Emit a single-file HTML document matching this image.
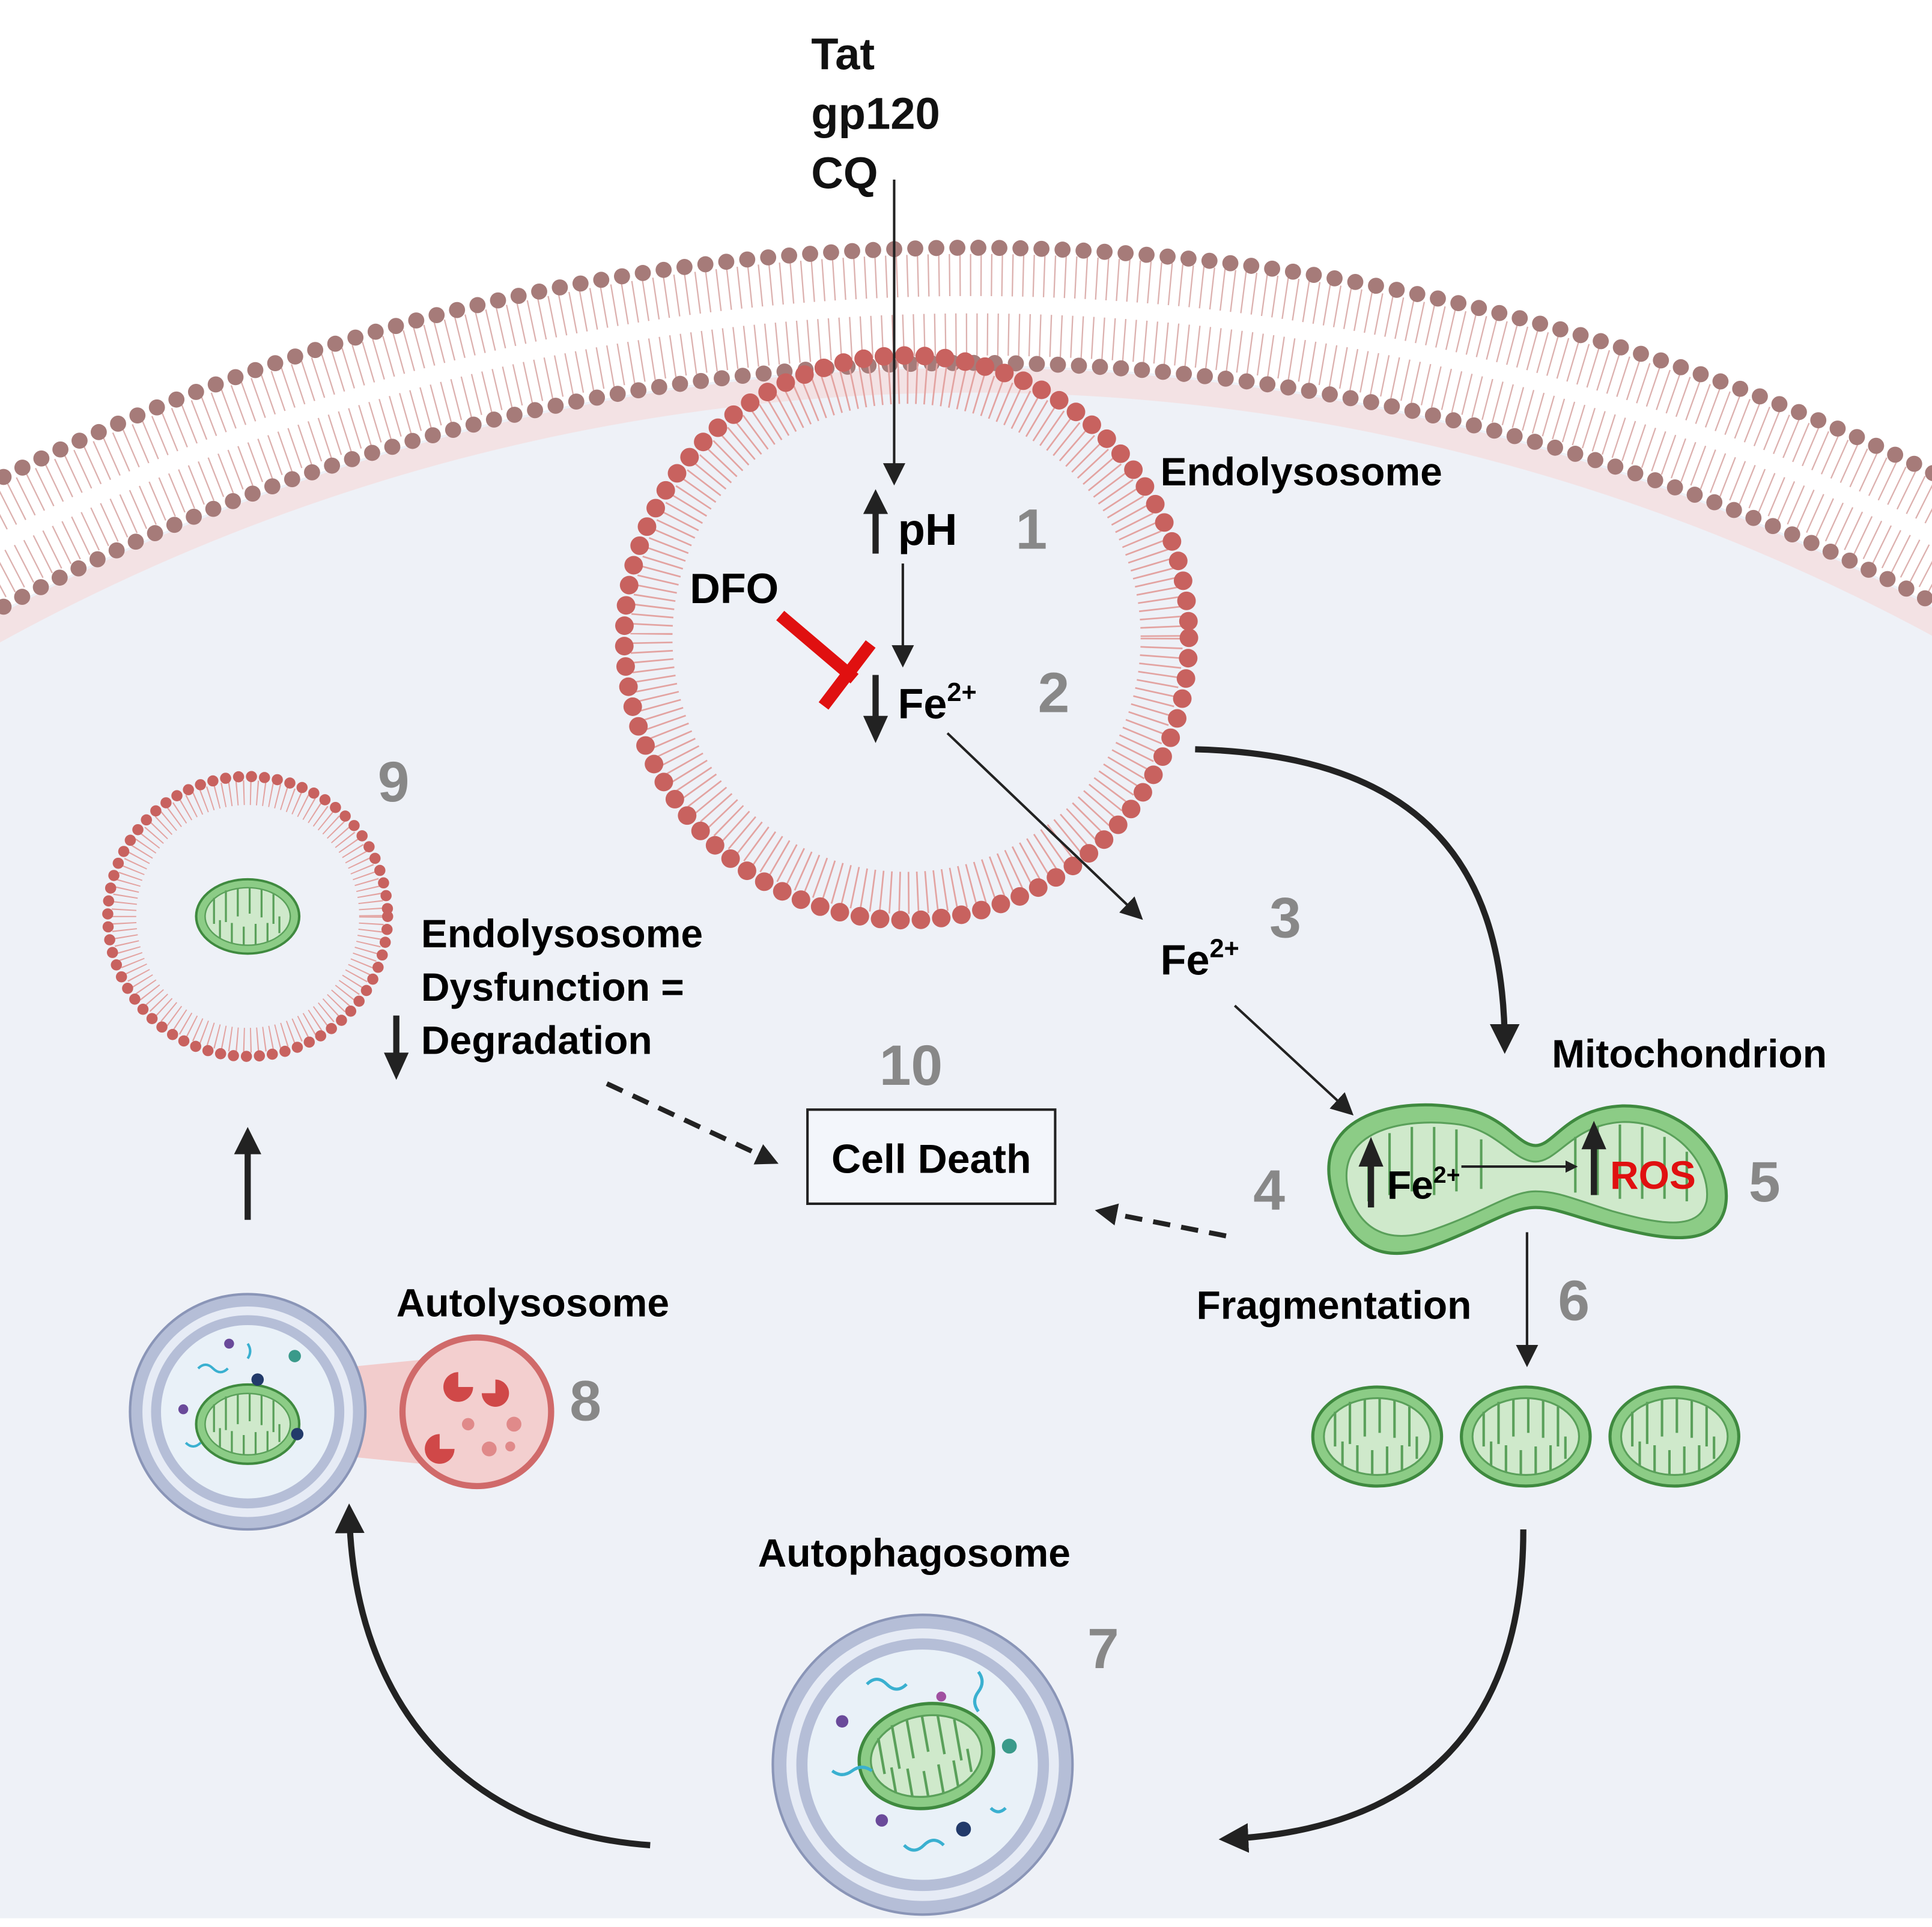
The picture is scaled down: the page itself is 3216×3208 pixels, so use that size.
<!DOCTYPE html>
<html><head><meta charset="utf-8"><style>
html,body{margin:0;padding:0;background:#fff;width:3216px;height:3208px;overflow:hidden;}
svg{display:block;}
text{font-family:"Liberation Sans",Arial,sans-serif;font-weight:bold;}
</style></head><body>
<svg width="3216" height="3208" viewBox="0 0 1560 1556" xmlns="http://www.w3.org/2000/svg">
<defs>
<marker id="ah" markerWidth="10" markerHeight="10" refX="8" refY="5" orient="auto" markerUnits="userSpaceOnUse"><path d="M0,0 L10,5 L0,10 z" fill="#222"/></marker>
<marker id="ahb" markerWidth="24" markerHeight="24" refX="18" refY="12" orient="auto" markerUnits="userSpaceOnUse"><path d="M0,0 L24,12 L0,24 z" fill="#222"/></marker>
<marker id="ahm" markerWidth="18" markerHeight="18" refX="14" refY="9" orient="auto" markerUnits="userSpaceOnUse"><path d="M0,0 L18,9 L0,18 z" fill="#222"/></marker>
<g id="mito">
<ellipse cx="0" cy="0" rx="52" ry="40" fill="#8ccc86" stroke="#3f8a3f" stroke-width="2.5"/>
<ellipse cx="0" cy="0" rx="43" ry="31" fill="#cfe9cb" stroke="#5aa05a" stroke-width="1.5"/>
<g fill="none" stroke="#5aa05a" stroke-width="2">
<path d="M-34,-20 v28 M-22,-28 v34 M-10,-30 v30 M2,-31 v28 M14,-29 v30 M26,-24 v32 M-28,24 v-20 M-16,29 v-22 M-4,31 v-20 M8,30 v-22 M20,27 v-20 M32,18 v-18"/>
</g>
</g>
</defs>
<rect width="1560" height="1556" fill="#fff"/>
<!-- cell interior -->
<circle cx="785" cy="1945" r="1650" fill="#eef1f7"/>
<circle cx="785" cy="1945" r="1638" fill="none" stroke="#f4dede" stroke-width="20" opacity="0.8"/>
<!-- plasma membrane -->
<circle cx="785" cy="1945" r="1723" fill="none" stroke="#dcb0ae" stroke-width="34" stroke-dasharray="1.1 7.4"/>
<circle cx="785" cy="1945" r="1675" fill="none" stroke="#dcb0ae" stroke-width="34" stroke-dasharray="1.1 7.4"/>
<circle cx="785" cy="1945" r="1745" fill="none" stroke="#a67b79" stroke-width="13" stroke-linecap="round" stroke-dasharray="0 17"/>
<circle cx="785" cy="1945" r="1652" fill="none" stroke="#a67b79" stroke-width="13" stroke-linecap="round" stroke-dasharray="0 17"/>
<rect x="0" y="1549" width="1560" height="7" fill="#fff"/>
<!-- endolysosome -->
<circle cx="732" cy="515" r="206" fill="none" stroke="#e3a3a1" stroke-width="34" stroke-dasharray="1.3 6"/>
<circle cx="732" cy="515" r="228" fill="none" stroke="#c8625f" stroke-width="15" stroke-linecap="round" stroke-dasharray="0 16.5"/>
<!-- lysosome 9 -->
<circle cx="200" cy="740" r="100" fill="none" stroke="#e3a3a1" stroke-width="20" stroke-dasharray="1 4.5"/>
<circle cx="200" cy="740" r="113" fill="none" stroke="#c8625f" stroke-width="9" stroke-linecap="round" stroke-dasharray="0 10.5"/>
<use href="#mito" transform="translate(200,740) scale(0.8,0.75)"/>
<!-- texts top -->
<g font-size="36" fill="#111">
<text x="655" y="56">Tat</text><text x="655" y="104">gp120</text><text x="655" y="152">CQ</text>
</g>
<line x1="722" y1="145" x2="722" y2="388" stroke="#222" stroke-width="2" marker-end="url(#ahm)"/>
<line x1="707" y1="447" x2="707" y2="412" stroke="#222" stroke-width="5"/><path d="M697,415 L707,395 L717,415z" fill="#222"/>
<text x="725" y="440" font-size="36">pH</text>
<text x="820" y="443" font-size="46" fill="#888">1</text>
<line x1="729" y1="455" x2="729" y2="535" stroke="#222" stroke-width="2" marker-end="url(#ahm)"/>
<text x="557" y="487" font-size="34">DFO</text>
<line x1="630" y1="497" x2="690" y2="548" stroke="#e01010" stroke-width="10"/>
<line x1="703" y1="520" x2="665" y2="570" stroke="#e01010" stroke-width="10"/>
<line x1="707" y1="545" x2="707" y2="580" stroke="#222" stroke-width="5"/><path d="M697,578 L707,600 L717,578z" fill="#222"/>
<text x="725" y="580" font-size="34">Fe<tspan font-size="21" dy="-14">2+</tspan></text>
<text x="838" y="575" font-size="46" fill="#888">2</text>
<text x="937" y="392" font-size="32">Endolysosome</text>
<line x1="765" y1="592" x2="920" y2="740" stroke="#222" stroke-width="2" marker-end="url(#ahm)"/>
<text x="937" y="787" font-size="34">Fe<tspan font-size="21" dy="-14">2+</tspan></text>
<text x="1025" y="757" font-size="46" fill="#888">3</text>
<line x1="997" y1="812" x2="1090" y2="898" stroke="#222" stroke-width="2" marker-end="url(#ahm)"/>
<path d="M965,605 C1150,610 1215,700 1215,845" fill="none" stroke="#222" stroke-width="5" marker-end="url(#ahb)"/>
<text x="1253" y="862" font-size="32">Mitochondrion</text>
<!-- big mitochondrion -->
<path d="M1075,960 C1060,900 1130,885 1180,895 C1215,900 1225,925 1240,925 C1255,925 1265,895 1310,893 C1365,892 1400,940 1393,975 C1385,1010 1340,1000 1300,990 C1270,982 1255,975 1240,975 C1220,975 1200,990 1160,1005 C1110,1025 1085,1000 1075,960z" fill="#8ccc86" stroke="#3f8a3f" stroke-width="2.5"/>
<path d="M1088,958 C1080,912 1135,902 1178,908 C1210,913 1222,938 1240,938 C1258,938 1270,908 1310,906 C1355,905 1382,942 1378,970 C1372,995 1338,988 1302,978 C1270,968 1258,962 1240,962 C1220,962 1200,978 1160,992 C1118,1008 1095,990 1088,958z" fill="#cfe9cb" stroke="#5aa05a" stroke-width="1.5"/>
<g fill="none" stroke="#5aa05a" stroke-width="2">
<path d="M1105,925 v45 M1122,915 v50 M1140,910 v52 M1158,910 v55 M1176,912 v50 M1196,920 v40 M1272,918 v45 M1290,910 v55 M1308,908 v60 M1326,910 v58 M1344,918 v50 M1362,930 v40"/>
</g>
<line x1="1107" y1="975" x2="1107" y2="940" stroke="#222" stroke-width="5"/><path d="M1097,942 L1107,918 L1117,942z" fill="#222"/>
<text x="1120" y="968" font-size="32">Fe<tspan font-size="19" dy="-13">2+</tspan></text>
<line x1="1180" y1="942" x2="1272" y2="942" stroke="#222" stroke-width="2" marker-end="url(#ah)"/>
<line x1="1287" y1="965" x2="1287" y2="925" stroke="#222" stroke-width="5"/><path d="M1277,928 L1287,905 L1297,928z" fill="#222"/>
<text x="1300" y="960" font-size="32" fill="#e01010">ROS</text>
<text x="1012" y="977" font-size="46" fill="#888">4</text>
<text x="1412" y="970" font-size="46" fill="#888">5</text>
<line x1="990" y1="998" x2="888" y2="978" stroke="#222" stroke-width="4" stroke-dasharray="14 9" marker-end="url(#ahm)"/>
<rect x="652" y="896" width="200" height="76" fill="#f3f6fb" stroke="#222" stroke-width="2"/>
<text x="752" y="947" font-size="33" text-anchor="middle">Cell Death</text>
<text x="710" y="876" font-size="46" fill="#888">10</text>
<line x1="490" y1="875" x2="625" y2="938" stroke="#222" stroke-width="4" stroke-dasharray="14 9" marker-end="url(#ahm)"/>
<text x="966" y="1065" font-size="32">Fragmentation</text>
<line x1="1233" y1="995" x2="1233" y2="1100" stroke="#222" stroke-width="2" marker-end="url(#ahm)"/>
<text x="1258" y="1066" font-size="46" fill="#888">6</text>
<use href="#mito" transform="translate(1112,1160)"/>
<use href="#mito" transform="translate(1232,1160)"/>
<use href="#mito" transform="translate(1352,1160)"/>
<path d="M1230,1235 C1230,1400 1140,1478 990,1485" fill="none" stroke="#222" stroke-width="5" marker-end="url(#ahb)"/>
<text x="612" y="1265" font-size="32">Autophagosome</text>
<text x="878" y="1347" font-size="46" fill="#888">7</text>
<!-- autophagosome -->
<circle cx="745" cy="1425" r="121" fill="#b5bed7" stroke="#8a95b7" stroke-width="2"/>
<circle cx="745" cy="1425" r="110" fill="#e6ebf5"/>
<circle cx="745" cy="1425" r="102" fill="#b5bed7"/>
<circle cx="745" cy="1425" r="93" fill="#e9f1f8"/>
<use href="#mito" transform="translate(748,1418) rotate(-10) scale(1.05,1.05)"/>
<g fill="none" stroke="#3ab0d0" stroke-width="2.5">
<path d="M700,1360 q8,-8 16,0 t16,0"/><path d="M790,1350 q6,8 0,16 t0,16"/><path d="M672,1430 q8,6 16,0 t16,0"/><path d="M730,1490 q8,8 16,0 t16,0"/><path d="M800,1460 q6,6 12,0"/>
</g>
<circle cx="680" cy="1390" r="5" fill="#6a4a9a"/><circle cx="815" cy="1410" r="6" fill="#3a9a8a"/><circle cx="778" cy="1477" r="6" fill="#223a6a"/><circle cx="712" cy="1470" r="5" fill="#6a4a9a"/><circle cx="760" cy="1370" r="4" fill="#a050a0"/>
<path d="M525,1490 C380,1480 285,1380 282,1220" fill="none" stroke="#222" stroke-width="5" marker-end="url(#ahb)"/>
<text x="320" y="1063" font-size="32">Autolysosome</text>
<text x="460" y="1147" font-size="46" fill="#888">8</text>
<!-- autolysosome -->
<path d="M270,1105 L340,1098 L340,1182 L270,1175z" fill="#f2cccc" stroke="none"/>
<circle cx="385" cy="1140" r="60" fill="#f3cfcf" stroke="#d06a6a" stroke-width="5"/>
<circle cx="200" cy="1140" r="95" fill="#b5bed7" stroke="#8a95b7" stroke-width="2"/>
<circle cx="200" cy="1140" r="85" fill="#e6ebf5"/>
<circle cx="200" cy="1140" r="78" fill="#b5bed7"/>
<circle cx="200" cy="1140" r="70" fill="#e9f1f8"/>
<use href="#mito" transform="translate(200,1150) scale(0.8,0.8)"/>
<circle cx="185" cy="1085" r="4" fill="#6a4a9a"/><circle cx="238" cy="1095" r="5" fill="#3a9a8a"/><circle cx="208" cy="1114" r="5" fill="#223a6a"/><circle cx="148" cy="1138" r="4" fill="#6a4a9a"/><circle cx="240" cy="1158" r="5" fill="#223a6a"/>
<g fill="none" stroke="#3ab0d0" stroke-width="2"><path d="M160,1105 q6,-6 12,0 t12,0"/><path d="M200,1085 q4,6 0,12"/><path d="M150,1165 q6,6 12,0"/></g>
<g fill="#d04848">
<path d="M370,1120 m0,-12 a12,12 0 1,0 12,12 l-12,0z"/>
<path d="M400,1125 m0,-11 a11,11 0 1,1 -11,11 l11,0z"/>
<path d="M355,1170 m0,-12 a12,12 0 1,0 12,12 l-12,0z"/>
</g>
<g fill="#e08a8a"><circle cx="415" cy="1150" r="6"/><circle cx="378" cy="1150" r="5"/><circle cx="395" cy="1170" r="6"/><circle cx="412" cy="1168" r="4"/></g>
<line x1="200" y1="985" x2="200" y2="930" stroke="#222" stroke-width="5"/><path d="M189,932 L200,910 L211,932z" fill="#222"/>
<text x="305" y="647" font-size="46" fill="#888">9</text>
<g font-size="32"><text x="340" y="765">Endolysosome</text><text x="340" y="808">Dysfunction =</text><text x="340" y="851">Degradation</text></g>
<line x1="320" y1="820" x2="320" y2="852" stroke="#222" stroke-width="5"/><path d="M310,850 L320,872 L330,850z" fill="#222"/>
</svg>
</body></html>
